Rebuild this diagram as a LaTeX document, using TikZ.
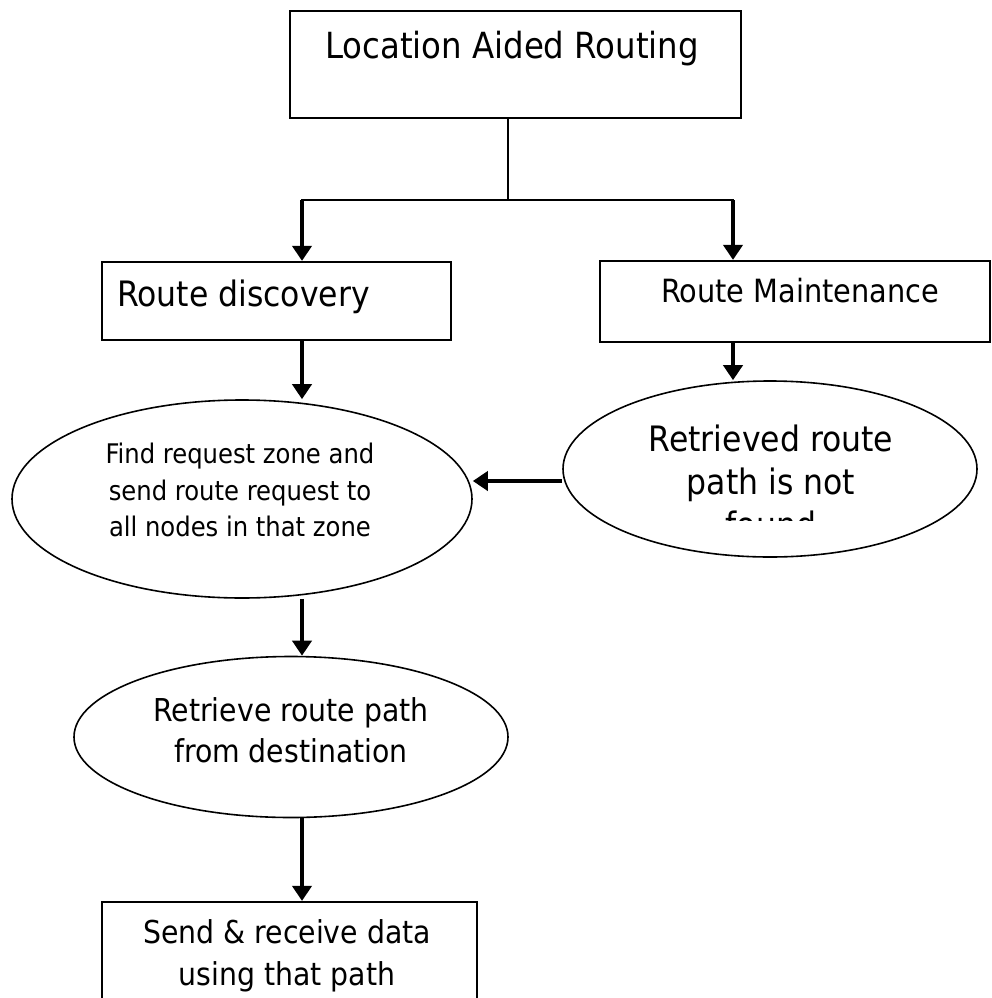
\documentclass[tikz,border=0pt]{standalone}
\usepackage{fontspec}
\setmainfont{DejaVu Sans Condensed}
\usetikzlibrary{arrows.meta,shapes.geometric}

\tikzset{
  box/.style={draw, rectangle, line width=2.2pt, inner sep=0pt},
  oval/.style={draw, ellipse, line width=1.6pt, inner sep=0pt},
  lbl/.style={inner sep=0pt, align=center, text=black},
  link/.style={line width=2.6pt, line cap=rect},
  arr/.style={line width=4pt, -{Triangle[width=19pt,length=15pt]}},
}

\begin{document}
\begin{tikzpicture}[x=1pt,y=-1pt]
\useasboundingbox (0,0) rectangle (992,998);
\fill[white] (0,0) rectangle (992,998);

% frames
\node[box, minimum width=451pt, minimum height=107pt] (lar) at (515.5,64.5) {};
\node[box, minimum width=349pt, minimum height=78pt] (rd) at (276.5,301) {};
\node[box, minimum width=390pt, minimum height=81pt] (rm) at (795,301.5) {};
\node[box, minimum width=375pt, minimum height=107.4pt] (sd) at (289.5,955.7) {};
\node[oval, minimum width=460pt, minimum height=198pt] (fr) at (242,499) {};
\node[oval, minimum width=414pt, minimum height=176pt] (nf) at (770,469) {};
\node[oval, minimum width=434pt, minimum height=161pt] (rp) at (291,737) {};

% labels
\node[lbl, font={\fontsize{36}{43}\selectfont}] (lartext) at (512,48.5) {Location Aided Routing};
\node[lbl, font={\fontsize{35}{42}\selectfont}, anchor=west] (rdtext) at (117,296.8) {Route discovery};
\node[lbl, font={\fontsize{32}{38}\selectfont}] (rmtext) at (800,290.8) {Route Maintenance};
\node[lbl, font={\fontsize{27}{36.5}\selectfont}] (frtext) at (240,490.3)
  {Find request zone and\\send route request to\\all nodes in that zone};
% the last line of this label is cut off by the text area
\begin{scope}
  \clip (560,375) rectangle (985,520.5);
  \node[lbl, font={\fontsize{35}{43}\selectfont}] (nftext) at (771,481.7)
    {Retrieved route\\path is not\\found};
\end{scope}
\node[lbl, font={\fontsize{31.5}{41}\selectfont}] (rptext) at (291,730.5)
  {Retrieve route path\\from destination};
\node[lbl, font={\fontsize{31.5}{42}\selectfont}] (sdtext) at (287,955.7)
  {Send \& receive data\\using that path};

% connectors
\coordinate (split) at (508,200);
\coordinate (colL) at (302,0);
\coordinate (colR) at (733,0);
\coordinate (row) at (0,481);

\draw[link] (split |- lar.south) -- (split);
\draw[link] (colL |- split) -- (colR |- split);
\draw[arr] (colL |- split) -- (colL |- rd.north);
\draw[arr] (colR |- split) -- (colR |- rm.north);
\draw[arr] (colL |- rd.south) -- (colL |- fr.north);
\draw[arr] (colR |- rm.south) -- (colR |- nf.north);
\draw[arr] (nf.west |- row) -- (fr.east |- row);
\draw[arr] (colL |- fr.south) -- (colL |- rp.north);
\draw[arr] (colL |- rp.south) -- (colL |- sd.north);
\end{tikzpicture}
\end{document}
